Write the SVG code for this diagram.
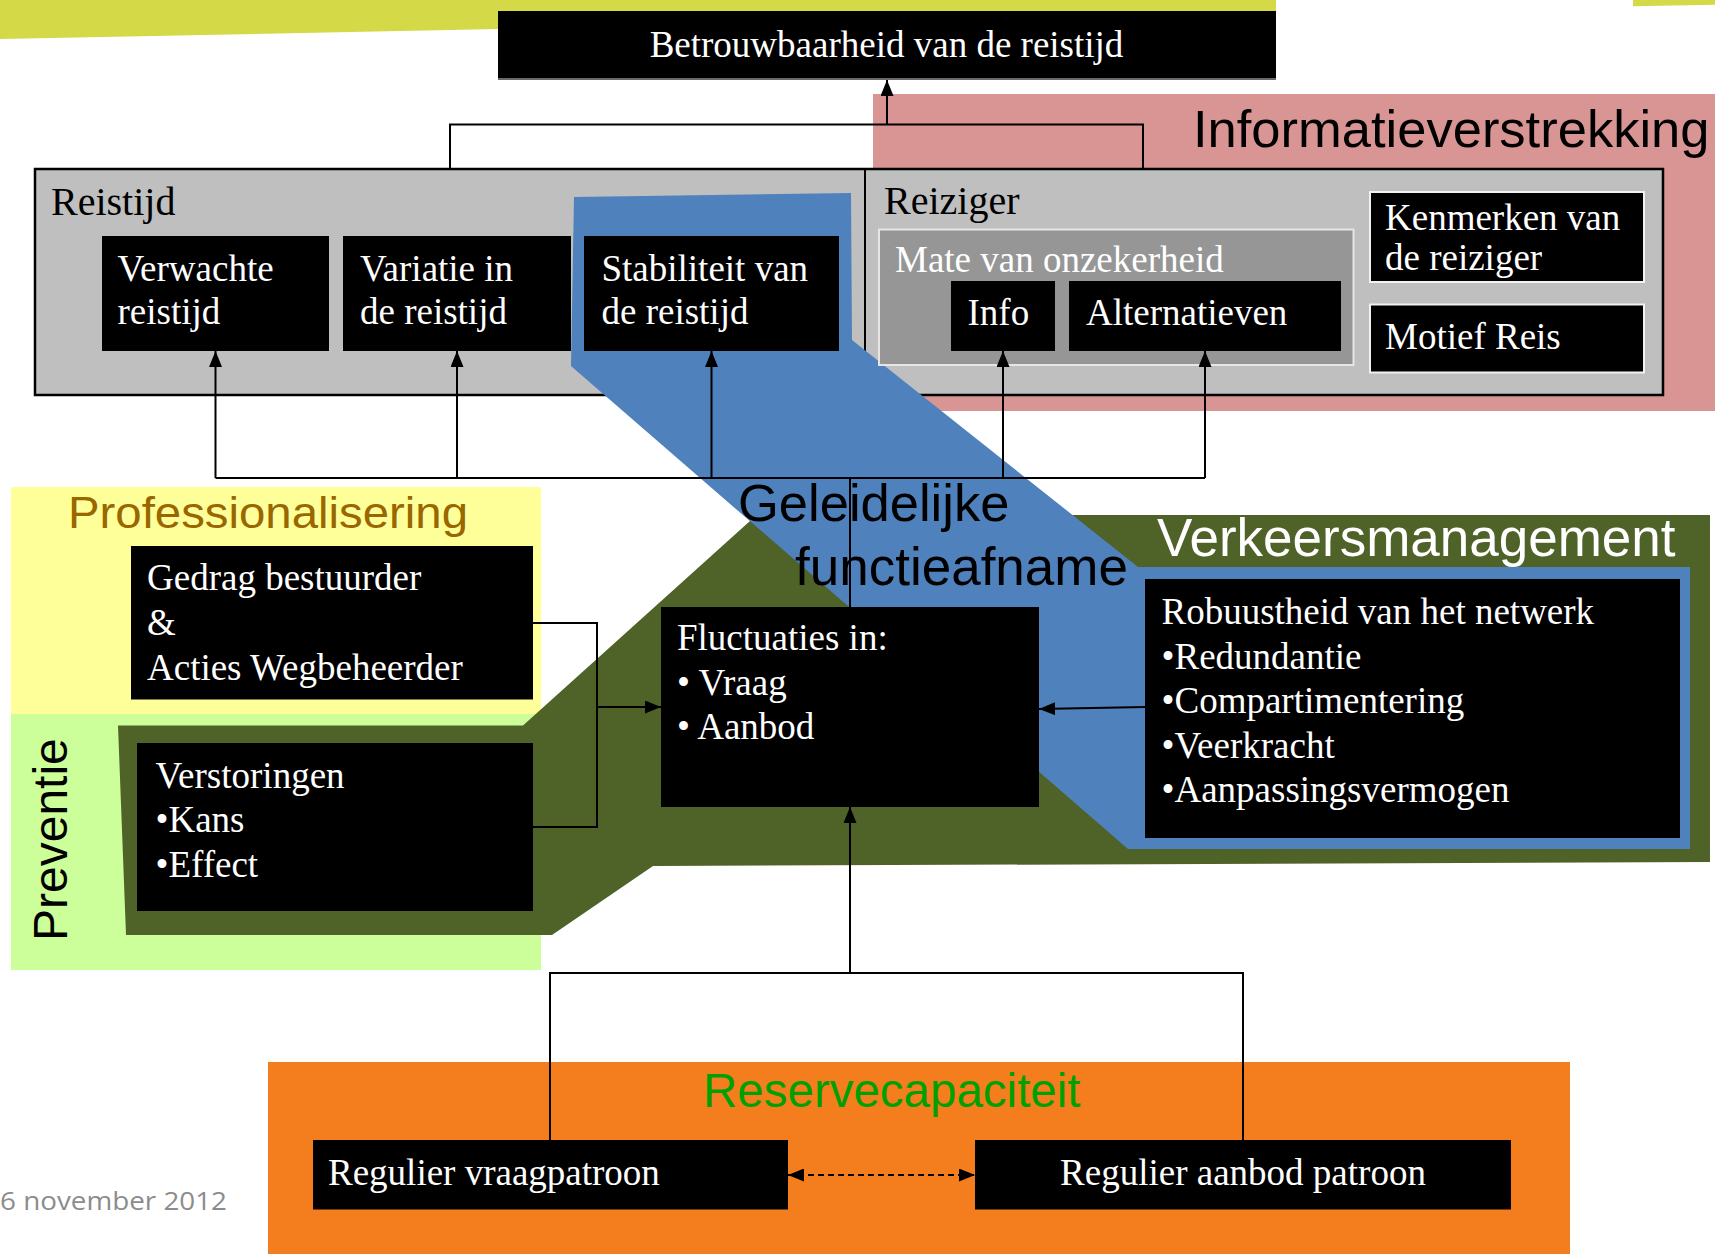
<svg xmlns="http://www.w3.org/2000/svg" width="1715" height="1254" viewBox="0 0 1715 1254">
  <style>
    .box { fill: #000; }
    .t { font-family: 'Liberation Serif', 'Times New Roman', serif; font-size: 37px; fill: #fff; }
    .lbl { font-family: 'Liberation Serif', 'Times New Roman', serif; font-size: 40px; fill: #000; }
    .sans { font-family: 'Liberation Sans', Arial, sans-serif; }
    .conn { stroke: #000; stroke-width: 2; fill: none; }
    .wb { stroke: #f2f2f2; stroke-width: 2; }
  </style>
  <defs>
    <marker id="arrow" markerUnits="userSpaceOnUse" markerWidth="16" markerHeight="13" viewBox="0 0 16 13" refX="16" refY="6.5" orient="auto-start-reverse">
      <path d="M0,0 L16,6.5 L0,13 z" fill="#000"/>
    </marker>
  </defs>

  <rect width="1715" height="1254" fill="#fff"/>

  <!-- background bands and regions -->
  <g id="backdrop">
    <polygon points="0,0 1276,0 1276,13.5 0,39" fill="#d4d947"/>
    <polygon points="1633,0 1715,0 1715,4.7 1633,6.3" fill="#d4d947"/>
    <rect x="873" y="94" width="842" height="317" fill="#d99594"/>
    <rect x="11" y="487" width="530" height="227" fill="#ffff99"/>
    <rect x="11" y="714" width="530" height="256" fill="#ccff99"/>
  </g>

  <!-- Reistijd / Reiziger container -->
  <g id="container">
    <rect x="35" y="169" width="1628" height="226" fill="#bfbfbf" stroke="#000" stroke-width="2.5"/>
    <line x1="865" y1="169" x2="865" y2="395" stroke="#000" stroke-width="2"/>
    <text class="lbl" x="51" y="215">Reistijd</text>
    <text class="lbl" x="884" y="214">Reiziger</text>
  </g>

  <!-- olive region: preventie / verkeersmanagement -->
  <polygon id="olive-region" points="750,521 1000,515 1710,515 1710,862 653,866 552,935 126,935 118,725.5 523,725.5" fill="#4f6228"/>

  <!-- blue band: geleidelijke functieafname -->
  <polygon id="blue-band" points="574,197 851,193 852,340 1138,567 1690,567 1690,849 1128,849 571,366" fill="#4f81bd"/>

  <g id="informatieverstrekking-label">
    <text class="sans" x="1193" y="147" font-size="52.5" fill="#000">Informatieverstrekking</text>
  </g>
  <g id="professionalisering-label">
    <text class="sans" x="68" y="528" font-size="44" fill="#996600" textLength="400" lengthAdjust="spacingAndGlyphs">Professionalisering</text>
  </g>
  <g id="preventie-label">
    <text class="sans" font-size="48" fill="#000" transform="translate(66.5,941) rotate(-90)">Preventie</text>
  </g>
  <g id="verkeersmanagement-label">
    <text class="sans" x="1157" y="556" font-size="53" fill="#fff">Verkeersmanagement</text>
  </g>
  <g id="geleidelijke-label">
    <text class="sans" x="738" y="521" font-size="52.5" fill="#000">Geleidelijke</text>
    <text class="sans" x="795" y="585" font-size="53" fill="#000">functieafname</text>
  </g>

  <!-- reserve capacity area -->
  <g id="reservecapaciteit">
    <rect x="268" y="1062" width="1302" height="192" fill="#f47e1e"/>
    <text class="sans" x="703" y="1107" font-size="47.5" fill="#00a000">Reservecapaciteit</text>
  </g>

  <!-- nodes -->
  <g id="betrouwbaarheid">
    <rect class="box" x="498" y="11" width="778" height="69"/>
    <line x1="498" y1="79" x2="1276" y2="79" stroke="#8c8c8c" stroke-width="1.5"/>
    <text class="t" x="886.5" y="57" text-anchor="middle">Betrouwbaarheid van de reistijd</text>
  </g>

  <g id="verwachte-reistijd">
    <rect class="box" x="102" y="236" width="227" height="115"/>
    <text class="t" x="117.5" y="280.5">Verwachte</text>
    <text class="t" x="117.5" y="324">reistijd</text>
  </g>
  <g id="variatie-reistijd">
    <rect class="box" x="343" y="236" width="228" height="115"/>
    <text class="t" x="360" y="280.5">Variatie in</text>
    <text class="t" x="360" y="324">de reistijd</text>
  </g>
  <g id="stabiliteit-reistijd">
    <rect class="box" x="584" y="236" width="255" height="115"/>
    <text class="t" x="601.5" y="280.5">Stabiliteit van</text>
    <text class="t" x="601.5" y="324">de reistijd</text>
  </g>

  <g id="mate-onzekerheid">
    <rect x="879" y="229.5" width="474.5" height="135.5" fill="#969696" stroke="#e6e6e6" stroke-width="2"/>
    <text class="t" x="895" y="271.5" fill="#f2f2f2">Mate van onzekerheid</text>
  </g>
  <g id="info">
    <rect class="box" x="951" y="281" width="104" height="70"/>
    <text class="t" x="967.5" y="325">Info</text>
  </g>
  <g id="alternatieven">
    <rect class="box" x="1069" y="281" width="272" height="70"/>
    <text class="t" x="1086" y="325">Alternatieven</text>
  </g>
  <g id="kenmerken-reiziger">
    <rect class="box wb" x="1370" y="192" width="274" height="90"/>
    <text class="t" x="1385" y="230">Kenmerken van</text>
    <text class="t" x="1385" y="269.5">de reiziger</text>
  </g>
  <g id="motief-reis">
    <rect class="box wb" x="1370" y="304.5" width="274" height="68"/>
    <text class="t" x="1385" y="348.5">Motief Reis</text>
  </g>

  <g id="gedrag-acties">
    <rect class="box" x="131" y="546" width="402" height="153.5"/>
    <text class="t" x="147" y="590">Gedrag bestuurder</text>
    <text class="t" x="147" y="635">&amp;</text>
    <text class="t" x="147" y="680">Acties Wegbeheerder</text>
  </g>
  <g id="verstoringen">
    <rect class="box" x="137" y="743" width="396" height="168"/>
    <text class="t" x="155.5" y="788">Verstoringen</text>
    <text class="t" x="155.5" y="832">•Kans</text>
    <text class="t" x="155.5" y="876.5">•Effect</text>
  </g>
  <g id="fluctuaties">
    <rect class="box" x="661" y="607" width="378" height="200"/>
    <text class="t" x="677" y="650">Fluctuaties in:</text>
    <text class="t" x="677" y="695">• Vraag</text>
    <text class="t" x="677" y="739">• Aanbod</text>
  </g>
  <g id="robuustheid">
    <rect class="box" x="1145" y="579" width="535" height="259"/>
    <text class="t" x="1161.5" y="623.5">Robuustheid van het netwerk</text>
    <text class="t" x="1161.5" y="668.5">•Redundantie</text>
    <text class="t" x="1161.5" y="713">•Compartimentering</text>
    <text class="t" x="1161.5" y="757.5">•Veerkracht</text>
    <text class="t" x="1161.5" y="802">•Aanpassingsvermogen</text>
  </g>
  <g id="regulier-vraagpatroon">
    <rect class="box" x="313" y="1140" width="475" height="69.5"/>
    <text class="t" x="328" y="1185">Regulier vraagpatroon</text>
  </g>
  <g id="regulier-aanbodpatroon">
    <rect class="box" x="975" y="1140" width="536" height="69.5"/>
    <text class="t" x="1243" y="1185" text-anchor="middle">Regulier aanbod patroon</text>
  </g>

  <!-- connectors -->
  <g id="connectors">
    <path class="conn" d="M450,170 V124.5 H1143 V170"/>
    <path class="conn" d="M887,124.5 V80" marker-end="url(#arrow)"/>

    <path class="conn" d="M215.5,478 H1205"/>
    <path class="conn" d="M215.5,478 V351" marker-end="url(#arrow)"/>
    <path class="conn" d="M457,478 V351" marker-end="url(#arrow)"/>
    <path class="conn" d="M711.5,478 V351" marker-end="url(#arrow)"/>
    <path class="conn" d="M1003,478 V351" marker-end="url(#arrow)"/>
    <path class="conn" d="M1205,478 V351" marker-end="url(#arrow)"/>
    <path class="conn" d="M850,607 V478"/>

    <path class="conn" d="M533,623 H597 V827 H533"/>
    <path class="conn" d="M597,707 H661" marker-end="url(#arrow)"/>
    <path class="conn" d="M1145,707 L1039,709" marker-end="url(#arrow)"/>

    <path class="conn" d="M850,973 V807" marker-end="url(#arrow)"/>
    <path class="conn" d="M550,1140 V973 H1243 V1140"/>
    <path class="conn" d="M788,1175 H975" stroke-width="2.5" stroke-dasharray="6,4" marker-start="url(#arrow)" marker-end="url(#arrow)"/>
  </g>

  <g id="footer-date">
    <text x="0" y="1210" font-family="'Open Sans', 'Liberation Sans', sans-serif" font-size="25" fill="#8c8c8c" textLength="227" lengthAdjust="spacingAndGlyphs">6 november 2012</text>
  </g>
</svg>
